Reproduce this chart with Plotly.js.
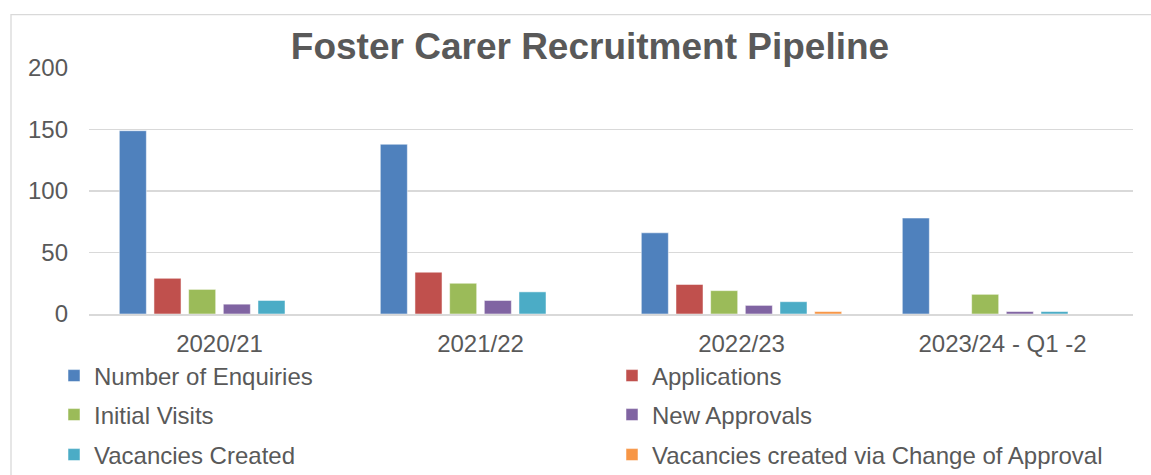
<!DOCTYPE html>
<html>
<head>
<meta charset="utf-8">
<script src="https://cdn.plot.ly/plotly-3.0.1.min.js"></script>
<style>html,body{margin:0;padding:0;background:#fff;}#chart{width:1151px;height:475px;}</style>
</head>
<body>
<div id="chart"></div>
<script>
const categories = ['2020/21', '2021/22', '2022/23', '2023/24 - Q1 -2'];
const seriesNames = ['Number of Enquiries', 'Applications', 'Initial Visits', 'New Approvals', 'Vacancies Created', 'Vacancies created via Change of Approval'];
const enquiries = [149, 138, 66, 78];
const applications = [29, 34, 24, 0];
const initialVisits = [20, 25, 19, 16];
const newApprovals = [8, 11, 7, 2];
const vacanciesCreated = [11, 18, 10, 2];
const changeOfApproval = [0, 0, 2, 0];
const colors = ['#4F81BD', '#C0504D', '#9BBB59', '#8064A2', '#4BACC6', '#F79646'];
const legendIds = ['legend', 'legend2', 'legend3', 'legend4', 'legend5', 'legend6'];

const allValues = [enquiries, applications, initialVisits, newApprovals, vacanciesCreated, changeOfApproval];
const FONT = 'Liberation Sans, Arial, sans-serif';
const TXT = '#595959';

const traces = allValues.map((vals, i) => ({
  type: 'bar',
  name: seriesNames[i],
  x: categories,
  y: vals,
  legend: legendIds[i],
  marker: {color: colors[i], line: {color: 'rgba(255,255,255,0.5)', width: 1}},
  hoverinfo: 'x+y+name'
}));

// legend slots: column left x (px), row centre y (px)
const colX = [54, 612];
const rowY = [376, 415, 455];

function legendCfg(k) {
  const col = k % 2, row = Math.floor(k / 2);
  return {
    orientation: 'v',
    xref: 'container', yref: 'container',
    x: colX[col] / 1151, xanchor: 'left',
    y: 1 - rowY[row] / 475, yanchor: 'middle',
    font: {family: FONT, size: 24, color: TXT},
    bgcolor: 'rgba(0,0,0,0)',
    itemclick: false, itemdoubleclick: false
  };
}

const layout = {
  width: 1151, height: 475,
  margin: {l: 89, r: 18, t: 68, b: 161, autoexpand: false},
  paper_bgcolor: '#ffffff', plot_bgcolor: '#ffffff',
  font: {family: FONT, size: 24, color: TXT},
  title: {
    text: 'Foster Carer Recruitment Pipeline',
    font: {family: FONT, size: 37, color: TXT, weight: 'bold'},
    xref: 'container', x: 590 / 1151, xanchor: 'center',
    yref: 'container', y: 1 - 46 / 475, yanchor: 'middle'
  },
  barmode: 'group',
  bargap: 0.203,
  bargroupgap: 0.22,
  xaxis: {
    type: 'category',
    showline: true, linecolor: '#d9d9d9', linewidth: 1.5,
    showgrid: false, ticks: '', ticklabelstandoff: 8,
    tickfont: {family: FONT, size: 24, color: TXT},
    fixedrange: true
  },
  yaxis: {
    range: [0, 200], dtick: 50, tick0: 0,
    showgrid: true, gridcolor: '#d9d9d9', gridwidth: 1.5,
    zeroline: false, showline: false, ticks: '',
    ticklabelstandoff: 20,
    tickfont: {family: FONT, size: 24, color: TXT},
    fixedrange: true
  },
  shapes: [{
    type: 'rect', layer: 'below',
    xref: 'paper', yref: 'paper',
    x0: (11 - 89) / 1044, x1: 1.1,
    y0: -1, y1: (314 - 14.7) / 246,
    line: {color: '#d9d9d9', width: 1.3},
    fillcolor: 'rgba(0,0,0,0)'
  }],
  showlegend: true
};
legendIds.forEach((id, k) => { layout[id] = legendCfg(k); });

Plotly.newPlot('chart', traces, layout, {displayModeBar: false, staticPlot: true});
</script>
</body>
</html>
